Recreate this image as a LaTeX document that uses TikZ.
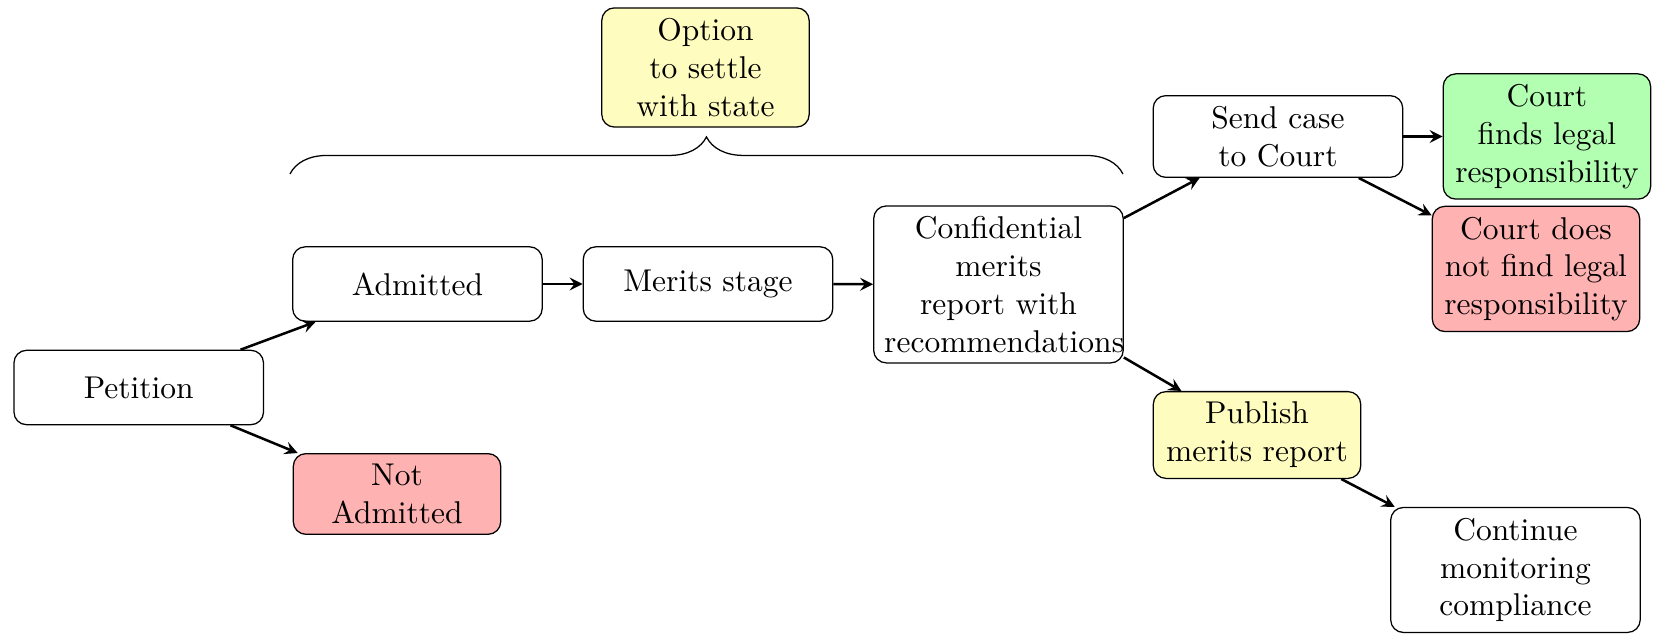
\documentclass[tikz,border=0pt]{standalone}
\usetikzlibrary{decorations.pathreplacing}

\begin{document}
\begin{tikzpicture}[thick, >=stealth,
      every node/.style = {shape=rectangle, rounded corners,
        draw, thin, align=center, minimum height=0.83cm},
      stage/.style = {text width=2.55cm},
      outcome/.style = {text width=2.08cm}]
  \useasboundingbox (0,0) rectangle (18.456,-7.074);
  \node[stage] (petition) at (1.548,-4.324) {Petition};
  \node[stage] (admitted) at (4.658,-3.169) {Admitted};
  \node[outcome, fill=red!30] (notadmitted) at (4.430,-5.512) {Not\\Admitted};
  \node[stage] (merits) at (7.900,-3.169) {Merits stage};
  \node[stage] (report) at (11.141,-3.174) {Confidential\\merits\\report with\\recommendations};
  \node[outcome, fill=yellow!25] (settle) at (7.872,-0.753) {Option\\to settle\\with state};
  \node[stage] (sendcase) at (14.260,-1.523) {Send case\\to Court};
  \node[outcome, fill=green!30] (finds) at (17.261,-1.523) {Court\\finds legal\\responsibility};
  \node[outcome, fill=red!30] (notfinds) at (17.139,-3.001) {Court does\\not find legal\\responsibility};
  \node[outcome, fill=yellow!25] (publish) at (14.026,-4.854) {Publish\\merits report};
  \node[stage] (monitor) at (16.910,-6.360) {Continue\\monitoring\\compliance};

  \draw[->] (petition) -- (admitted);
  \draw[->] (petition) -- (notadmitted);
  \draw[->] (admitted) -- (merits);
  \draw[->] (merits) -- (report);
  \draw[->] (report) -- (sendcase);
  \draw[->] (report) -- (publish);
  \draw[->] (sendcase) -- (finds);
  \draw[->] (sendcase) -- (notfinds);
  \draw[->] (publish) -- (monitor);

  % settlement possible from admission to report
  \coordinate (bracestart) at (3.236,-1.941);
  \coordinate (braceend) at (12.530,-1.941);
  \draw[thin, decorate, decoration={brace, amplitude=0.413cm}] (bracestart) -- (braceend);
\end{tikzpicture}
\end{document}
